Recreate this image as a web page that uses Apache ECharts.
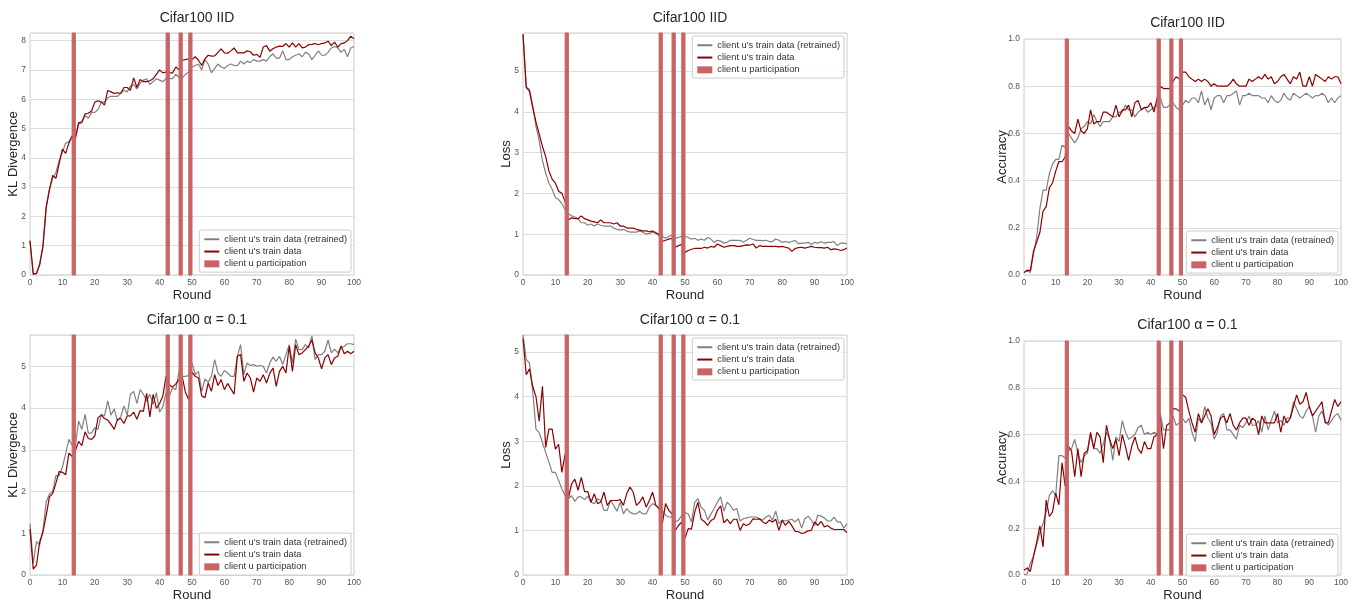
<!DOCTYPE html>
<html>
<head>
<meta charset="utf-8">
<script src="https://cdn.jsdelivr.net/npm/echarts@6/dist/echarts.min.js"></script>
<style>html,body{margin:0;padding:0;background:#fff}#c{width:1357px;height:603px}</style>
</head>
<body>
<div id="c"></div>
<script>
// ---------------- DATA ----------------
const NAME_RETRAINED = "client u's train data (retrained)";
const NAME_TRAIN = "client u's train data";
const NAME_PART = "client u participation";
const PARTICIPATION = [[13, 14], [42, 43], [46, 47], [49, 50]];
const X_TICKS = [0, 10, 20, 30, 40, 50, 60, 70, 80, 90, 100];

const KL_IID_TRAIN = [1.17,0.05,0.05,0.35,0.97,2.3,2.9,3.4,3.3,3.8,
 4.3,4.15,4.5,4.75,4.65,5.2,5.22,5.5,5.52,5.6,
 5.9,5.95,5.9,5.8,6.3,6.25,6.2,6.22,6.2,6.4,
 6.4,6.3,6.73,6.4,6.67,6.6,6.6,6.63,6.7,6.85,
 7.0,6.9,6.93,6.9,6.9,7.1,7.0,7.33,7.35,7.38,
 7.35,7.45,7.33,7.15,7.38,7.5,7.47,7.48,7.6,7.72,
 7.58,7.57,7.65,7.75,7.58,7.58,7.58,7.65,7.62,7.5,
 7.53,7.43,7.78,7.83,7.64,7.72,7.78,7.81,7.8,7.9,
 7.78,7.92,7.78,7.9,7.75,7.78,7.86,7.87,7.9,7.86,
 7.9,7.92,7.98,7.83,7.95,7.78,7.9,7.92,8.0,8.15,
 8.06];
const KL_IID_RETRAINED = [1.17,0.0,0.05,0.4,1.0,2.35,2.95,3.3,3.5,3.9,
 4.2,4.5,4.55,4.7,4.7,5.15,5.2,5.45,5.35,5.55,
 5.55,5.65,5.9,5.9,6.05,6.1,6.1,6.1,6.2,6.3,
 6.25,6.45,6.5,6.35,6.55,6.65,6.7,6.5,6.6,6.7,
 6.65,6.6,6.7,6.7,6.7,6.85,6.75,6.73,6.85,6.93,
 7.1,7.15,7.2,7.0,7.35,7.2,6.9,7.05,7.2,7.1,
 7.05,7.15,7.2,7.15,7.15,7.3,7.2,7.3,7.25,7.35,
 7.3,7.3,7.35,7.3,7.45,7.55,7.4,7.4,7.65,7.35,
 7.35,7.45,7.5,7.55,7.45,7.6,7.55,7.35,7.5,7.65,
 7.5,7.5,7.6,7.75,7.8,7.75,7.6,7.7,7.45,7.75,
 7.8];

const LOSS_IID_TRAIN = [5.9,4.6,4.5,4.1,3.75,3.45,3.15,2.9,2.55,2.35,
 2.25,2.05,2.0,1.8,1.35,1.4,1.38,1.38,1.45,1.38,
 1.35,1.32,1.3,1.28,1.35,1.28,1.28,1.28,1.25,1.28,
 1.2,1.2,1.15,1.15,1.15,1.12,1.1,1.08,1.08,1.06,
 1.08,1.02,1.0,0.82,0.85,0.88,0.9,0.68,0.72,0.75,
 0.55,0.6,0.63,0.65,0.65,0.65,0.68,0.66,0.7,0.68,
 0.76,0.72,0.68,0.7,0.72,0.72,0.7,0.7,0.72,0.74,
 0.73,0.76,0.66,0.72,0.7,0.7,0.7,0.7,0.7,0.69,
 0.7,0.68,0.66,0.58,0.65,0.67,0.68,0.66,0.68,0.7,
 0.68,0.67,0.67,0.66,0.68,0.62,0.64,0.63,0.6,0.62,
 0.66];
const LOSS_IID_RETRAINED = [5.9,4.6,4.55,4.15,3.65,3.3,2.8,2.5,2.25,2.1,
 1.9,1.85,1.75,1.6,1.5,1.45,1.42,1.38,1.28,1.28,
 1.22,1.25,1.2,1.25,1.22,1.2,1.2,1.2,1.15,1.12,
 1.1,1.12,1.08,1.05,1.05,1.05,1.08,1.05,1.0,1.02,
 1.05,1.05,0.95,0.95,0.9,0.95,0.97,0.9,0.92,0.95,
 0.95,0.92,0.88,0.9,0.85,0.88,0.85,0.92,0.88,0.8,
 0.85,0.83,0.78,0.8,0.85,0.85,0.85,0.85,0.8,0.85,
 0.9,0.87,0.85,0.85,0.84,0.85,0.82,0.82,0.88,0.85,
 0.8,0.82,0.8,0.82,0.85,0.77,0.78,0.78,0.8,0.75,
 0.8,0.78,0.82,0.78,0.8,0.8,0.82,0.72,0.78,0.78,
 0.76];

const ACC_IID_TRAIN = [0.01,0.02,0.02,0.1,0.14,0.18,0.27,0.29,0.37,0.39,
 0.44,0.48,0.48,0.5,0.63,0.61,0.6,0.66,0.61,0.6,
 0.62,0.7,0.64,0.65,0.65,0.69,0.69,0.68,0.67,0.72,
 0.67,0.7,0.7,0.72,0.67,0.73,0.74,0.7,0.71,0.71,
 0.73,0.69,0.75,0.8,0.79,0.79,0.79,0.82,0.84,0.83,
 0.86,0.86,0.84,0.83,0.82,0.83,0.82,0.83,0.82,0.8,
 0.81,0.8,0.8,0.8,0.8,0.81,0.83,0.81,0.8,0.8,
 0.8,0.83,0.82,0.83,0.84,0.83,0.85,0.83,0.84,0.81,
 0.82,0.84,0.85,0.83,0.81,0.84,0.83,0.86,0.8,0.8,
 0.84,0.8,0.85,0.84,0.83,0.82,0.84,0.83,0.84,0.84,
 0.81];
const ACC_IID_RETRAINED = [0.01,0.02,0.01,0.09,0.16,0.28,0.36,0.36,0.43,0.47,
 0.49,0.49,0.55,0.54,0.6,0.58,0.56,0.58,0.62,0.63,
 0.65,0.64,0.68,0.65,0.63,0.65,0.65,0.65,0.67,0.67,
 0.69,0.69,0.72,0.7,0.7,0.67,0.69,0.7,0.71,0.69,
 0.7,0.71,0.72,0.75,0.71,0.71,0.72,0.73,0.71,0.7,
 0.72,0.74,0.73,0.75,0.75,0.73,0.78,0.72,0.75,0.7,
 0.75,0.76,0.76,0.73,0.76,0.76,0.77,0.78,0.72,0.76,
 0.76,0.77,0.76,0.76,0.76,0.75,0.75,0.73,0.76,0.74,
 0.73,0.74,0.77,0.75,0.74,0.77,0.76,0.75,0.76,0.77,
 0.76,0.75,0.76,0.76,0.77,0.76,0.73,0.75,0.73,0.75,
 0.76];

const KL_A01_TRAIN = [1.1,0.14,0.24,0.8,1.03,1.43,1.87,1.95,2.2,2.48,
 2.46,2.4,2.92,2.84,2.98,3.2,3.1,3.43,3.27,3.25,
 3.33,3.77,3.83,3.75,3.71,3.61,3.49,3.73,3.75,3.63,
 3.81,3.81,3.9,3.73,3.94,3.92,4.35,3.79,4.33,3.99,
 4.11,4.29,4.76,4.56,4.5,4.58,4.68,4.74,4.37,4.2,
 4.86,4.76,4.72,4.29,4.25,4.6,4.4,4.8,4.54,4.68,
 4.44,4.59,4.46,4.33,5.24,5.28,4.64,4.84,4.72,4.38,
 4.72,4.64,4.8,4.6,4.83,4.96,4.52,4.88,5.0,4.84,
 5.48,4.88,5.52,5.28,5.32,5.4,5.48,5.63,5.32,5.2,
 4.94,5.2,5.28,5.04,5.2,5.24,5.49,5.3,5.36,5.3,
 5.36];
const KL_A01_RETRAINED = [1.23,0.28,0.8,0.72,1.07,1.75,1.94,2.0,2.38,2.38,
 2.58,2.9,3.25,3.11,3.1,3.69,3.49,3.85,3.4,3.4,
 3.53,3.49,3.85,3.81,4.17,3.83,3.98,3.69,3.79,4.05,
 3.83,4.33,4.4,4.11,4.44,4.33,4.17,4.33,4.09,4.37,
 3.9,4.03,4.37,4.29,4.48,4.44,4.88,4.76,4.76,4.78,
 5.08,4.8,4.88,4.4,4.7,4.62,4.76,5.16,4.84,4.76,
 4.9,4.84,4.76,4.76,5.24,5.52,4.8,5.08,5.02,5.04,
 5.0,5.02,5.0,4.84,5.08,5.22,5.12,5.24,5.04,5.28,
 5.52,5.08,5.65,5.4,5.4,5.52,5.44,5.73,5.16,5.28,
 5.28,5.36,5.63,5.32,5.41,5.32,5.44,5.48,5.54,5.54,
 5.52];

const LOSS_A01_TRAIN = [5.3,4.49,4.62,4.23,4.0,3.45,4.23,2.86,3.27,3.27,
 2.82,2.93,2.3,2.71,1.72,2.04,2.15,1.9,2.19,1.87,
 1.87,1.63,1.82,1.6,1.63,1.86,1.56,1.67,1.67,1.67,
 1.69,1.56,1.82,1.97,1.86,1.56,1.63,1.75,1.52,1.67,
 1.86,1.56,1.49,1.15,1.6,1.45,1.37,1.0,1.11,1.19,
 0.83,1.04,1.03,1.41,1.63,1.25,1.2,1.11,1.22,1.26,
 1.45,1.55,1.17,1.25,1.15,1.25,1.25,1.0,1.15,1.11,
 1.15,1.26,1.25,1.26,1.19,1.15,1.23,1.19,1.25,1.0,
 1.23,1.11,1.2,1.1,0.98,0.97,0.93,0.95,0.99,1.0,
 1.19,1.11,1.2,1.08,1.11,1.05,1.02,1.02,1.02,1.02,
 0.95];
const LOSS_A01_RETRAINED = [5.38,4.83,4.75,4.12,3.27,3.19,2.97,2.75,2.53,2.3,
 2.3,2.12,1.93,1.78,1.71,1.78,1.65,1.75,1.75,1.69,
 1.77,1.63,1.6,1.71,1.67,1.45,1.45,1.67,1.56,1.43,
 1.63,1.37,1.49,1.41,1.37,1.37,1.43,1.37,1.37,1.52,
 1.6,1.56,1.49,1.45,1.34,1.3,1.3,1.19,1.23,1.34,
 1.4,1.37,1.19,1.63,1.71,1.52,1.45,1.23,1.37,1.49,
 1.63,1.75,1.43,1.63,1.56,1.45,1.49,1.21,1.26,1.28,
 1.3,1.3,1.3,1.26,1.23,1.3,1.34,1.23,1.43,1.15,
 1.23,1.21,1.23,1.25,1.19,1.26,1.05,1.26,1.32,1.23,
 1.11,1.34,1.32,1.28,1.21,1.21,1.3,1.19,1.19,1.05,
 1.15];

const ACC_A01_TRAIN = [0.02,0.03,0.015,0.08,0.14,0.21,0.12,0.32,0.25,0.27,
 0.35,0.3,0.48,0.38,0.55,0.53,0.42,0.54,0.42,0.52,
 0.53,0.61,0.54,0.61,0.59,0.48,0.64,0.58,0.54,0.58,
 0.51,0.6,0.55,0.49,0.55,0.59,0.54,0.52,0.57,0.54,
 0.54,0.59,0.6,0.67,0.54,0.64,0.65,0.71,0.71,0.7,
 0.77,0.76,0.7,0.65,0.61,0.69,0.65,0.68,0.71,0.68,
 0.6,0.63,0.67,0.68,0.65,0.69,0.64,0.62,0.65,0.67,
 0.67,0.64,0.67,0.66,0.6,0.68,0.65,0.65,0.65,0.65,
 0.69,0.61,0.68,0.65,0.67,0.72,0.77,0.73,0.74,0.78,
 0.72,0.68,0.7,0.72,0.74,0.65,0.65,0.7,0.75,0.72,
 0.74];
const ACC_A01_RETRAINED = [0.0,0.005,0.05,0.08,0.13,0.18,0.22,0.27,0.34,0.36,
 0.34,0.51,0.51,0.5,0.53,0.54,0.58,0.52,0.48,0.51,
 0.52,0.6,0.54,0.54,0.52,0.56,0.61,0.58,0.49,0.59,
 0.57,0.66,0.61,0.58,0.59,0.6,0.63,0.64,0.6,0.61,
 0.6,0.61,0.6,0.69,0.62,0.62,0.62,0.68,0.64,0.65,
 0.67,0.65,0.67,0.61,0.57,0.67,0.65,0.72,0.67,0.65,
 0.58,0.61,0.68,0.69,0.62,0.62,0.6,0.58,0.64,0.63,
 0.65,0.68,0.64,0.64,0.66,0.61,0.68,0.62,0.66,0.7,
 0.65,0.66,0.64,0.67,0.67,0.74,0.71,0.68,0.67,0.7,
 0.72,0.68,0.61,0.68,0.7,0.66,0.64,0.66,0.68,0.69,
 0.66];

const ROUNDS = KL_IID_TRAIN.map((_, i) => i);

// ---------------- LAYOUT ----------------
const FONT = 'Liberation Sans';
const PANELS = [
  {title: 'Cifar100 IID', yName: 'KL Divergence', r: KL_IID_RETRAINED, t: KL_IID_TRAIN, yMax: 8.26, step: 1, dec: 0,
   grid: {left: 30, top: 33, width: 324, height: 242}, titleTop: 6, nameGap: 10, legend: {right: 1006, top: 230}},
  {title: 'Cifar100 IID', yName: 'Loss', r: LOSS_IID_RETRAINED, t: LOSS_IID_TRAIN, yMax: 5.93, step: 1, dec: 0,
   grid: {left: 523, top: 33, width: 324, height: 242}, titleTop: 6, nameGap: 10, legend: {right: 513, top: 36}},
  {title: 'Cifar100 IID', yName: 'Accuracy', r: ACC_IID_RETRAINED, t: ACC_IID_TRAIN, yMax: 1, step: 0.2, dec: 1,
   grid: {left: 1024, top: 39, width: 317, height: 236}, titleTop: 11, nameGap: 15, legend: {right: 19, top: 231}},
  {title: 'Cifar100 α = 0.1', yName: 'KL Divergence', r: KL_A01_RETRAINED, t: KL_A01_TRAIN, yMax: 5.75, step: 1, dec: 0,
   grid: {left: 30, top: 335, width: 324, height: 242}, titleTop: 308, nameGap: 10, legend: {right: 1006, top: 533}},
  {title: 'Cifar100 α = 0.1', yName: 'Loss', r: LOSS_A01_RETRAINED, t: LOSS_A01_TRAIN, yMax: 5.38, step: 1, dec: 0,
   grid: {left: 523, top: 335, width: 324, height: 242}, titleTop: 308, nameGap: 10, legend: {right: 513, top: 338}},
  {title: 'Cifar100 α = 0.1', yName: 'Accuracy', r: ACC_A01_RETRAINED, t: ACC_A01_TRAIN, yMax: 1, step: 0.2, dec: 1,
   grid: {left: 1024, top: 341, width: 317, height: 236}, titleTop: 313, nameGap: 15, legend: {right: 19, top: 534}}
];

const C_GREY = '#808080', C_RED = '#8b0000', C_PART = '#c86464';

const option = {animation: false, backgroundColor: '#fff', textStyle: {fontFamily: FONT},
  title: [], grid: [], xAxis: [], yAxis: [], legend: [], series: []};

PANELS.forEach((p, i) => {
  const g = p.grid;
  option.title.push({text: p.title, left: g.left + g.width / 2, top: p.titleTop, textAlign: 'center',
    textStyle: {fontFamily: FONT, fontSize: 14, fontWeight: 'normal', color: '#262626'}});
  option.grid.push({left: g.left, top: g.top, width: g.width, height: g.height, show: true,
    borderColor: '#cccccc', borderWidth: 1, backgroundColor: '#fff'});
  option.xAxis.push({type: 'value', gridIndex: i, min: X_TICKS[0], max: X_TICKS[X_TICKS.length - 1], interval: X_TICKS[1] - X_TICKS[0],
    name: 'Round', nameLocation: 'middle', nameGap: 14, nameMoveOverlap: false,
    nameTextStyle: {fontFamily: FONT, fontSize: 13, color: '#262626', verticalAlign: 'top'},
    axisLine: {show: false}, axisTick: {show: false}, splitLine: {show: false},
    axisLabel: {fontFamily: FONT, fontSize: 8.5, color: '#555', margin: 3}});
  const aligned = Math.abs(p.yMax / p.step - Math.round(p.yMax / p.step)) < 1e-6;
  option.yAxis.push({type: 'value', gridIndex: i, min: 0, max: p.yMax, interval: p.step,
    name: p.yName, nameLocation: 'middle', nameGap: p.nameGap, nameMoveOverlap: false,
    nameTextStyle: {fontFamily: FONT, fontSize: 13, color: '#262626'},
    axisLine: {show: false}, axisTick: {show: false},
    splitLine: {show: true, lineStyle: {color: '#dddddd', width: 1}},
    axisLabel: {fontFamily: FONT, fontSize: 8.5, color: '#555', margin: 4, showMaxLabel: aligned,
      formatter: v => v.toFixed(p.dec)}});
  option.legend.push({right: p.legend.right, top: p.legend.top, orient: 'vertical', selectedMode: false,
    itemWidth: 15, itemHeight: 7, itemGap: 1.8, padding: [4, 4, 3, 4],
    borderColor: '#cccccc', borderWidth: 1, borderRadius: 2, backgroundColor: 'rgba(255,255,255,0.85)',
    textStyle: {fontFamily: FONT, fontSize: 9.3, color: '#333', lineHeight: 10.5},
    data: [{name: NAME_RETRAINED, itemStyle: {opacity: 0}},
           {name: NAME_TRAIN, itemStyle: {opacity: 0}},
           {name: NAME_PART, icon: 'rect'}]});
  option.series.push({type: 'line', name: NAME_RETRAINED, xAxisIndex: i, yAxisIndex: i, symbol: 'none', z: 2,
    color: C_GREY, lineStyle: {color: C_GREY, width: 1.2}, data: ROUNDS.map((r, k) => [r, p.r[k]])});
  option.series.push({type: 'line', name: NAME_TRAIN, xAxisIndex: i, yAxisIndex: i, symbol: 'none', z: 3,
    color: C_RED, lineStyle: {color: C_RED, width: 1.2}, data: ROUNDS.map((r, k) => [r, p.t[k]])});
  option.series.push({type: 'custom', name: NAME_PART, xAxisIndex: i, yAxisIndex: i, z: 4,
    itemStyle: {color: C_PART}, encode: {x: [0, 1]},
    renderItem: (params, api) => {
      const cs = params.coordSys;
      const x1 = api.coord([api.value(0), 0])[0];
      const x2 = api.coord([api.value(1), 0])[0];
      return {type: 'rect', shape: {x: x1, y: cs.y, width: x2 - x1, height: cs.height},
        style: {fill: C_PART, stroke: C_PART, lineWidth: 1}};
    },
    data: PARTICIPATION});
});

const chart = echarts.init(document.getElementById('c'), null, {renderer: 'canvas'});
chart.setOption(option);
</script>
</body>
</html>
